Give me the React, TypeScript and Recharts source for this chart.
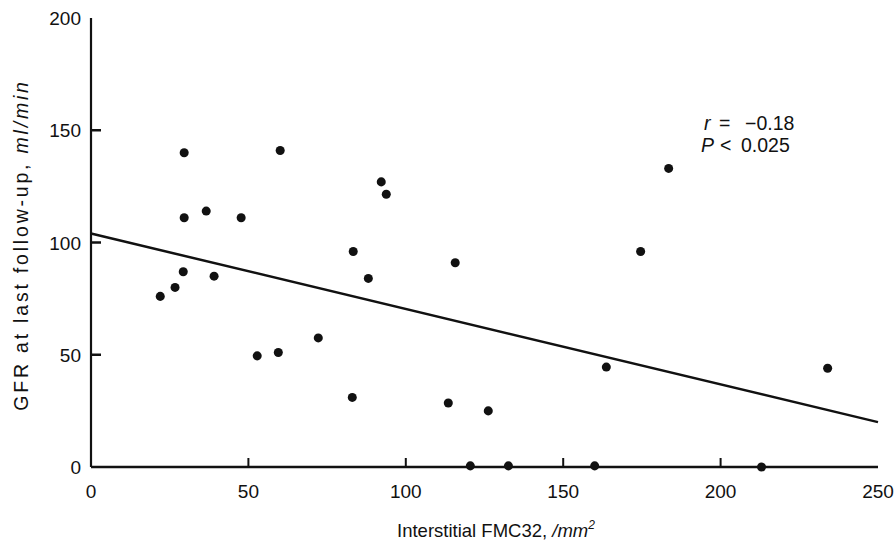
import React from 'react';
import { ScatterChart, Scatter, XAxis, YAxis, ZAxis, Label } from 'recharts';

// Interstitial FMC32 (/mm2) vs GFR at last follow-up (ml/min)
const fmcValues = [22, 26.7, 29.3, 29.6, 29.6, 36.6, 39.1, 47.7, 52.8, 59.5, 60.1, 72.2, 83.3, 83, 88.1, 92.2, 93.8, 113.5, 115.7, 126.2, 120.5, 132.6, 160, 163.7, 174.6, 183.5, 213, 234];
const gfrValues = [76, 80, 87, 140, 111, 114, 85, 111, 49.5, 51, 141, 57.5, 96, 31, 84, 127, 121.5, 28.5, 91, 25, 0.5, 0.5, 0.5, 44.5, 96, 133, 0, 44];

// fitted regression line end points
const fitX = [0, 250];
const fitY = [104, 20];

const xTicks = [0, 50, 100, 150, 200, 250];
const yTicks = [0, 50, 100, 150, 200];
// only these values get a small inward tick mark
const xMarked = [50, 100, 150, 200];
const yMarked = [50, 100, 150];

const points = fmcValues.map((x, i) => ({ x, y: gfrValues[i] }));
const fitLine = fitX.map((x, i) => ({ x, y: fitY[i] }));

const FONT = '"Liberation Sans", Arial, sans-serif';
const INK = '#111';

// recharts puts the label at axis + tickSize(6) + tickMargin
const X_MARGIN = 10;
const Y_MARGIN = 4;

const renderXTick = (props: any) => {
  const { x, y, payload } = props;
  const v = Number(payload.value);
  const axisY = y - 6 - X_MARGIN;
  return (
    <g>
      {xMarked.indexOf(v) >= 0 ? (
        <path d={`M${x},${axisY}v-9`} stroke={INK} strokeWidth={2} />
      ) : null}
      <text x={x} y={y} dy={15} textAnchor="middle" fill={INK} fontSize={19} fontFamily={FONT}>
        {v}
      </text>
    </g>
  );
};

const renderYTick = (props: any) => {
  const { x, y, payload } = props;
  const v = Number(payload.value);
  const axisX = x + 6 + Y_MARGIN;
  return (
    <g>
      {yMarked.indexOf(v) >= 0 ? (
        <path d={`M${axisX},${y}h10`} stroke={INK} strokeWidth={2.5} />
      ) : null}
      <text x={x} y={y} dy={7} textAnchor="end" fill={INK} fontSize={19} fontFamily={FONT}>
        {v}
      </text>
    </g>
  );
};

const App = () => {
  return (
    <div style={{ position: 'absolute', left: 0, top: 0, width: 894, height: 545, background: '#fff' }}>
      <ScatterChart width={894} height={545} margin={{ top: 18, right: 16, bottom: 38, left: 31 }}>
        <XAxis
          type="number"
          dataKey="x"
          domain={[0, 250]}
          ticks={xTicks}
          interval={0}
          height={40}
          stroke={INK}
          strokeWidth={2.5}
          tickLine={false}
          tickMargin={X_MARGIN}
          tick={renderXTick}
        >
          <Label
            content={() => (
              <text x={496} y={537} textAnchor="middle" fill={INK} fontSize={18.5} fontFamily={FONT}>
                Interstitial FMC32, <tspan fontStyle="italic">/mm</tspan>
                <tspan fontStyle="italic" fontSize={12} dy={-8}>2</tspan>
              </text>
            )}
          />
        </XAxis>
        <YAxis
          type="number"
          dataKey="y"
          domain={[0, 200]}
          ticks={yTicks}
          interval={0}
          width={60}
          stroke={INK}
          strokeWidth={2.2}
          tickLine={false}
          tickMargin={Y_MARGIN}
          tick={renderYTick}
        >
          <Label
            content={() => (
              <text
                x={28}
                y={245}
                transform="rotate(-90 28 245)"
                textAnchor="middle"
                fill={INK}
                fontSize={19.5}
                fontFamily={FONT}
                letterSpacing={2.8}
              >
                GFR at last follow-up, <tspan fontStyle="italic">ml/min</tspan>
              </text>
            )}
          />
        </YAxis>
        <ZAxis range={[26, 26]} />
        <Scatter data={points} fill={INK} isAnimationActive={false} />
        <Scatter
          data={fitLine}
          line={{ stroke: INK, strokeWidth: 2.5 }}
          shape={() => null}
          isAnimationActive={false}
        />
        <text y={130} fill={INK} fontSize={19.5} fontFamily={FONT}>
          <tspan x={704} fontStyle="italic">r</tspan>
          <tspan x={719}>=</tspan>
          <tspan x={745}>−0.18</tspan>
        </text>
        <text y={152} fill={INK} fontSize={19.5} fontFamily={FONT}>
          <tspan x={701} fontStyle="italic">P</tspan>
          <tspan x={720}>&lt;</tspan>
          <tspan x={741}>0.025</tspan>
        </text>
      </ScatterChart>
    </div>
  );
};

export default App;
